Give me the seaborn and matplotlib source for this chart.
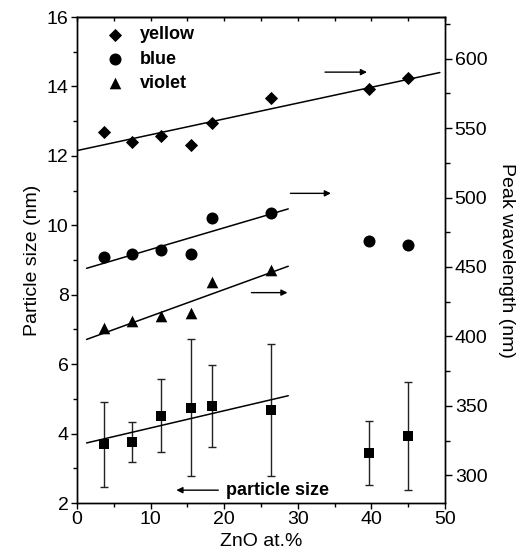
import matplotlib
matplotlib.use("Agg")
import matplotlib.pyplot as plt
from matplotlib.ticker import MultipleLocator
import seaborn as sns

# ---- data ----
zno = [3.7, 7.5, 11.4, 15.5, 18.4, 26.4, 39.7, 45.0]
yellow_nm = [547, 540, 544, 538, 554, 572, 578, 586]
blue_nm = [457, 459, 462, 459, 485, 489, 469, 466]
zno_violet = [3.7, 7.5, 11.4, 15.5, 18.4, 26.4]
violet_nm = [406, 411, 415, 417, 439, 448]
size_nm = [3.69, 3.75, 4.52, 4.75, 4.79, 4.67, 3.43, 3.93]
size_err = [1.23, 0.58, 1.06, 1.96, 1.18, 1.90, 0.92, 1.55]

# fitted lines (end points)
fit_yellow_x = [0.0, 49.3]
fit_yellow_y = [533.8, 590.0]
fit_blue_x = [1.3, 28.7]
fit_blue_y = [449.0, 491.8]
fit_violet_x = [1.3, 28.7]
fit_violet_y = [397.8, 450.5]
fit_size_x = [1.3, 28.7]
fit_size_y = [3.73, 5.09]

series_labels = ["yellow", "blue", "violet"]

# ---- style ----
sns.set_theme(style="white")
plt.rcParams["font.family"] = ["Liberation Sans", "DejaVu Sans"]
plt.rcParams["axes.linewidth"] = 1.0
for key in ["text.color", "axes.labelcolor", "xtick.color", "ytick.color",
            "axes.edgecolor"]:
    plt.rcParams[key] = "black"

fig = plt.figure(figsize=(5.25, 5.6), dpi=100)
ax = fig.add_axes([77 / 525, 1 - 503 / 560, (445 - 77) / 525, (503 - 17) / 560])
ax2 = ax.twinx()

k = "black"
# particle size (left axis)
ax.errorbar(zno, size_nm, yerr=size_err, fmt="none", ecolor="#222222",
            elinewidth=1.0, capsize=3, capthick=1.0, zorder=2)
sns.scatterplot(x=zno, y=size_nm, marker="s", s=55, color=k,
                edgecolor=k, linewidth=0, ax=ax, zorder=3)
sns.lineplot(x=fit_size_x, y=fit_size_y, color=k, lw=1.1, ax=ax)

# peak wavelengths (right axis)
sns.scatterplot(x=zno, y=yellow_nm, marker="D", s=45, color=k,
                edgecolor=k, linewidth=0, ax=ax2, label=series_labels[0])
sns.scatterplot(x=zno, y=blue_nm, marker="o", s=75, color=k,
                edgecolor=k, linewidth=0, ax=ax2, label=series_labels[1])
sns.scatterplot(x=zno_violet, y=violet_nm, marker="^", s=70, color=k,
                edgecolor=k, linewidth=0, ax=ax2, label=series_labels[2])
for fx, fy in [(fit_yellow_x, fit_yellow_y), (fit_blue_x, fit_blue_y),
               (fit_violet_x, fit_violet_y)]:
    sns.lineplot(x=fx, y=fy, color=k, lw=1.1, ax=ax2)

# arrows
arrow = dict(arrowstyle="-|>", color=k, lw=1.0, mutation_scale=9,
             shrinkA=0, shrinkB=0)
ax2.annotate("", xy=(39.4, 590.3), xytext=(33.7, 590.3), arrowprops=arrow)
ax2.annotate("", xy=(34.5, 503), xytext=(29.0, 503), arrowprops=arrow)
ax2.annotate("", xy=(28.6, 431.5), xytext=(23.7, 431.5), arrowprops=arrow)
ax.annotate("", xy=(13.5, 2.37), xytext=(19.2, 2.37), arrowprops=arrow)
ax.text(20.2, 2.37, "particle size", fontsize=13, fontweight="bold",
        va="center", ha="left")

# axes limits & ticks
ax.set_xlim(0, 50)
ax.set_ylim(2, 16)
ax2.set_ylim(280, 630)
ax.xaxis.set_major_locator(MultipleLocator(10))
ax.xaxis.set_minor_locator(MultipleLocator(5))
ax.yaxis.set_major_locator(MultipleLocator(2))
ax.yaxis.set_minor_locator(MultipleLocator(1))
ax2.yaxis.set_major_locator(MultipleLocator(50))
ax2.yaxis.set_minor_locator(MultipleLocator(25))

ax.tick_params(axis="both", which="major", direction="out", length=4,
               width=1.0, labelsize=14, colors=k, pad=2,
               left=True, bottom=True, right=False, top=False)
ax.tick_params(axis="both", which="minor", direction="out", length=3,
               width=1.0, left=True, bottom=True, right=False, top=False)
ax2.tick_params(axis="y", which="major", direction="out", length=5,
                width=1.0, labelsize=14, colors=k, pad=2, right=True)
ax2.tick_params(axis="y", which="minor", direction="out", length=3.5,
                width=1.0, right=True)

top = ax.secondary_xaxis("top")
top.xaxis.set_major_locator(MultipleLocator(10))
top.xaxis.set_minor_locator(MultipleLocator(5))
top.tick_params(which="both", direction="in", length=3, width=1.0,
                labeltop=False)

for a in (ax, ax2):
    for sp in a.spines.values():
        sp.set_color(k)
        sp.set_linewidth(1.0)
top.spines["top"].set_linewidth(1.0)

ax.set_xlabel("ZnO at.%", fontsize=14, labelpad=3, color=k)
ax.set_ylabel("Particle size (nm)", fontsize=14, labelpad=4, color=k)
ax2.set_ylabel("Peak wavelength (nm)", fontsize=14, rotation=270,
               labelpad=20, color=k)

leg = ax2.legend(loc="upper left", frameon=False, fontsize=13,
                 bbox_to_anchor=(0.025, 1.003), handletextpad=0.35,
                 labelspacing=0.4, borderaxespad=0.2, markerscale=1.0)
for t in leg.get_texts():
    t.set_fontweight("bold")
    t.set_color(k)

fig.savefig("out.png", dpi=100)
